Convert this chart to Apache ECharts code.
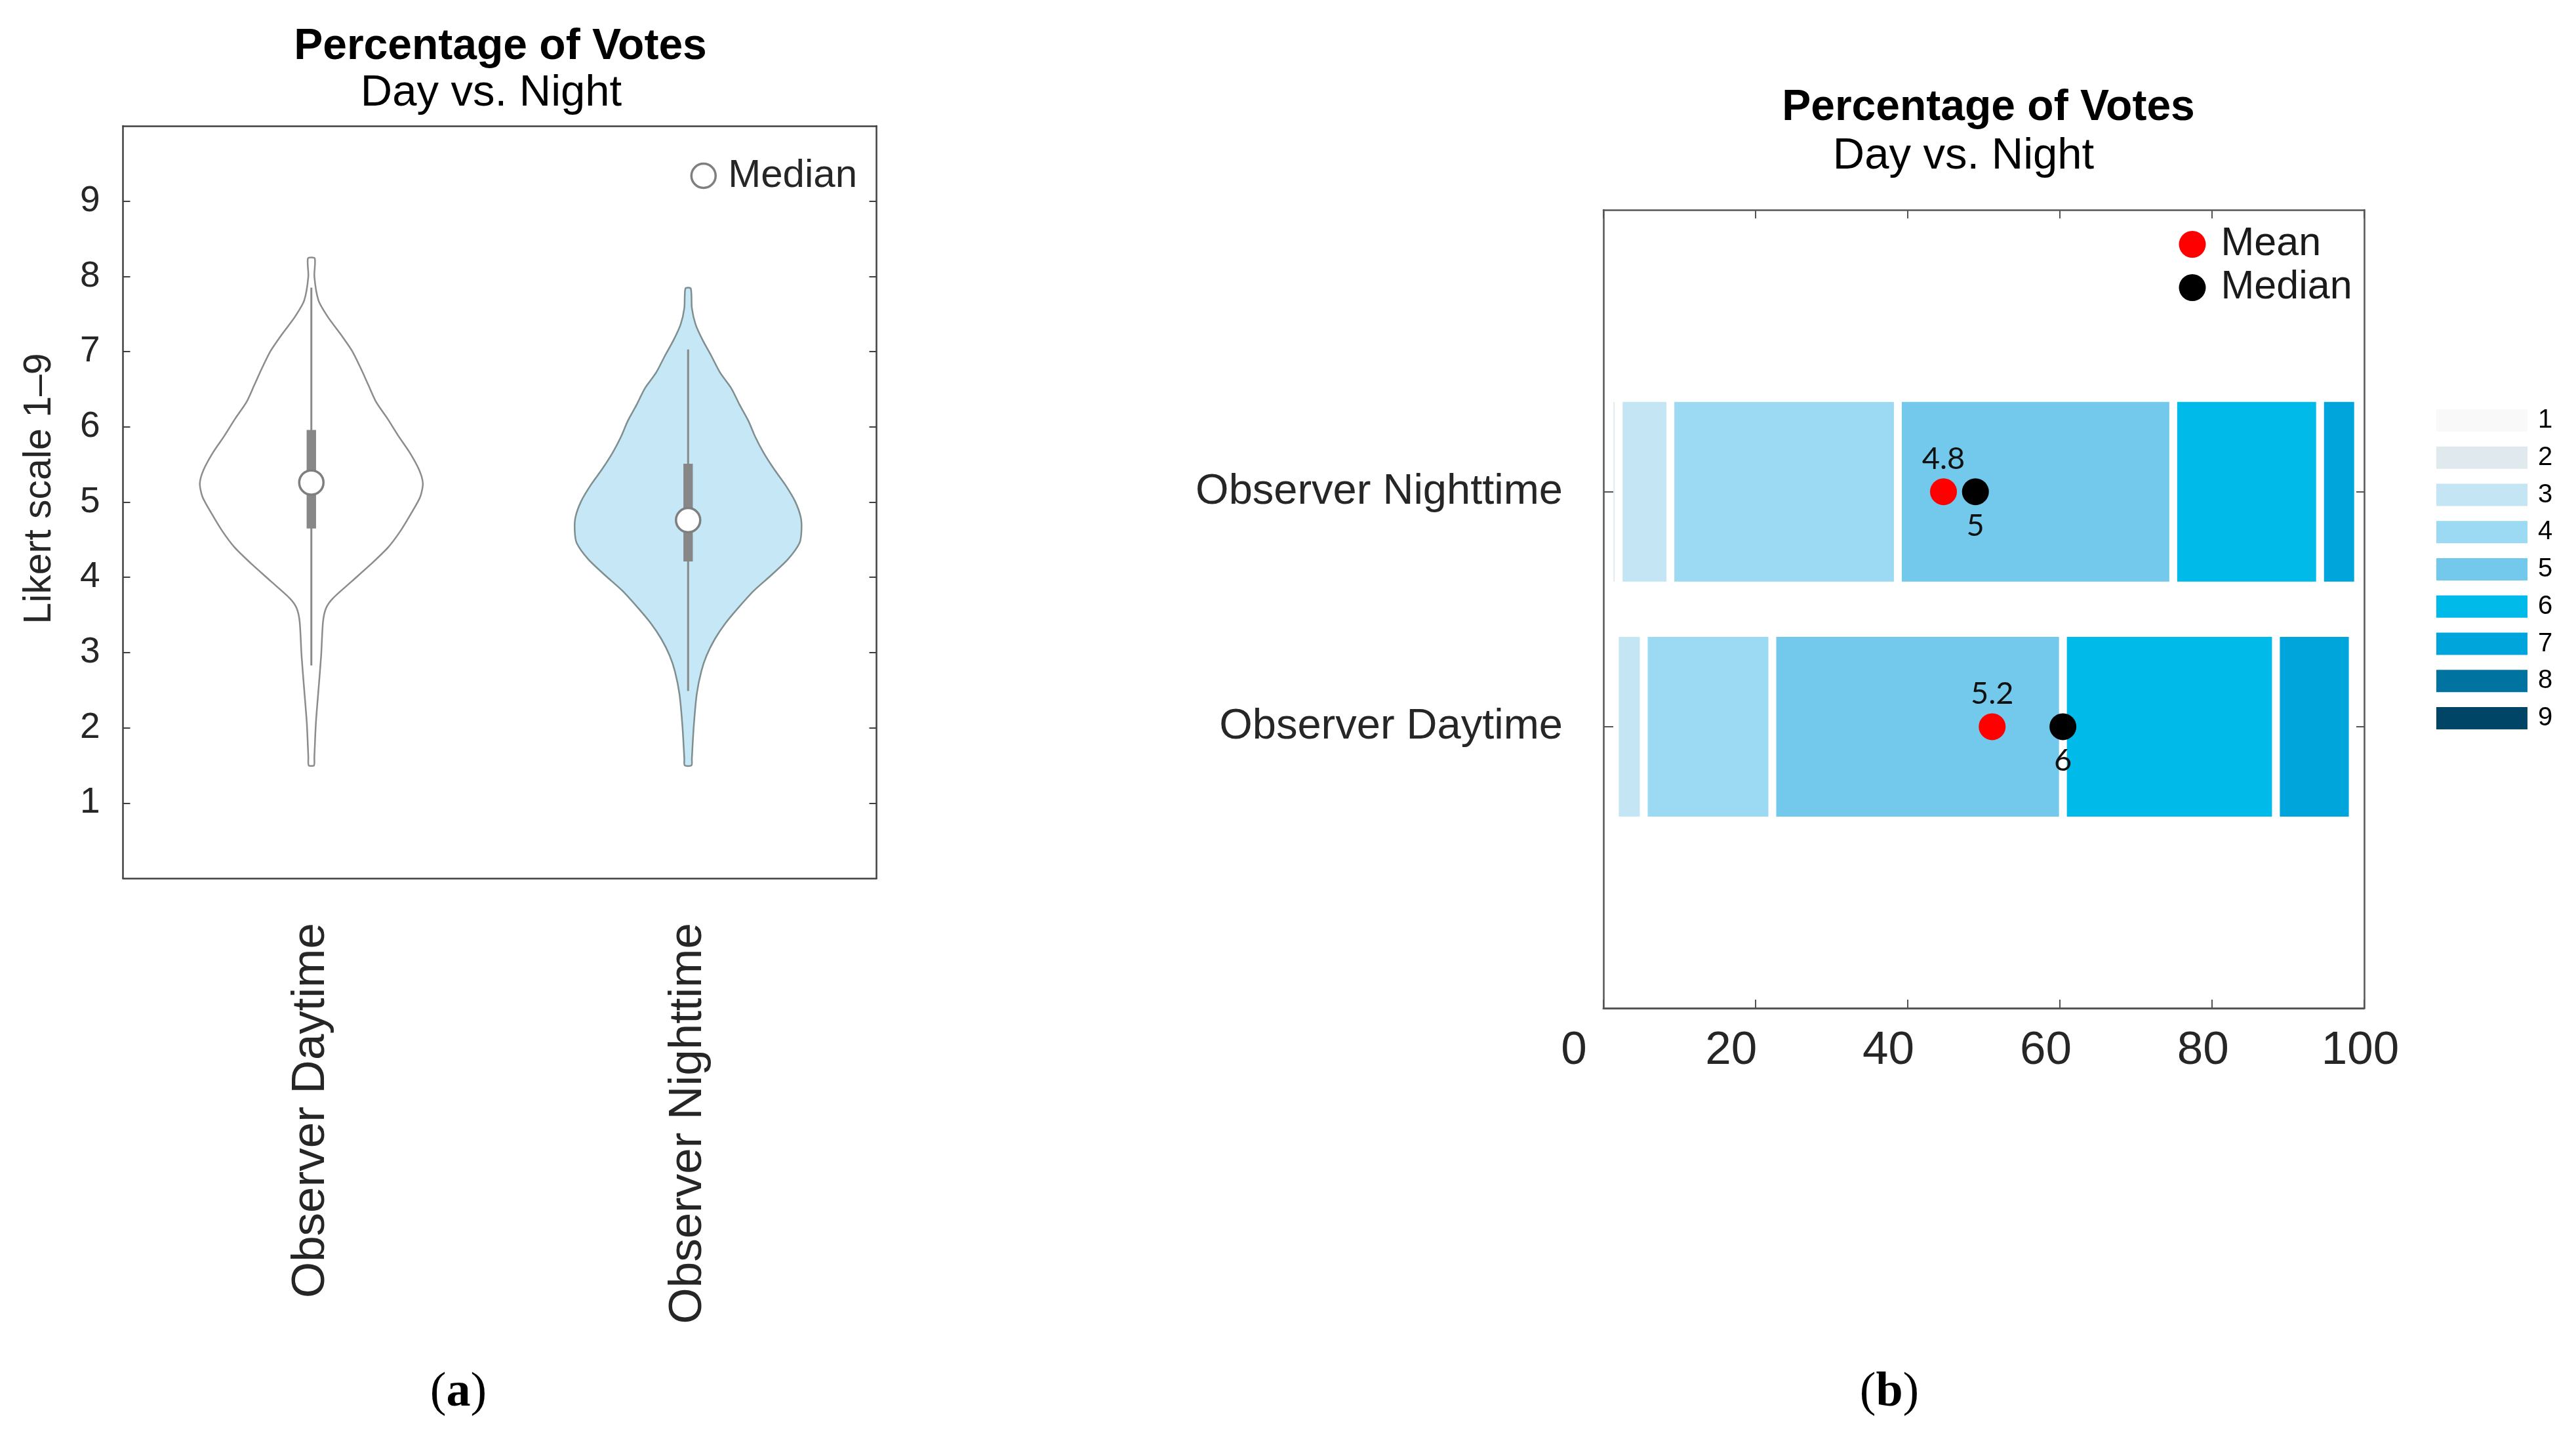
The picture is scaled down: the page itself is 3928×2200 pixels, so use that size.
<!DOCTYPE html>
<html><head><meta charset="utf-8">
<script src="https://cdn.jsdelivr.net/npm/echarts@6/dist/echarts.min.js"></script>
<style>html,body{margin:0;padding:0;background:#fff}#c{width:3928px;height:2200px}</style>
</head><body><div id="c"></div>
<script>
// ---------- Panel (a): violin ----------
const violinCategories = ['Observer Daytime', 'Observer Nighttime'];
const likertTicks = [1, 2, 3, 4, 5, 6, 7, 8, 9];
const dayLevels = [8.24, 8.0, 7.68, 7.46, 7.23, 7.01, 6.78, 6.56, 6.33, 6.11, 5.88, 5.66, 5.43, 5.25, 5.07, 4.85, 4.62, 4.40, 4.17, 3.95, 3.72, 3.59, 3.41, 2.96, 2.51, 2.06, 1.61, 1.5];
const dayHalfWidth = [0.009, 0.008, 0.019, 0.044, 0.078, 0.108, 0.131, 0.151, 0.172, 0.202, 0.231, 0.261, 0.286, 0.296, 0.289, 0.265, 0.237, 0.204, 0.157, 0.108, 0.057, 0.039, 0.031, 0.026, 0.019, 0.012, 0.008, 0.007];
const nightLevels = [7.84, 7.58, 7.36, 7.15, 6.94, 6.72, 6.51, 6.30, 6.08, 5.87, 5.66, 5.44, 5.23, 5.01, 4.80, 4.63, 4.46, 4.24, 4.03, 3.82, 3.60, 3.39, 3.18, 2.96, 2.75, 2.45, 2.02, 1.59, 1.5];
const nightHalfWidth = [0.007, 0.010, 0.020, 0.039, 0.062, 0.085, 0.115, 0.136, 0.160, 0.178, 0.200, 0.228, 0.258, 0.284, 0.299, 0.301, 0.296, 0.265, 0.221, 0.174, 0.134, 0.099, 0.071, 0.049, 0.035, 0.023, 0.015, 0.010, 0.009];
const boxQ1 = [4.65, 4.21];
const boxQ3 = [5.96, 5.51];
const whiskerLow = [2.83, 2.49];
const whiskerHigh = [7.85, 7.03];
const violinMedian = [5.26, 4.76];

// ---------- Panel (b): stacked percentage bars ----------
const barCategories = ['Observer Daytime', 'Observer Nighttime'];
const likertLevels = ['1', '2', '3', '4', '5', '6', '7', '8', '9'];
const likertColors = ['#f9f9f9', '#dfe9ee', '#c4e6f4', '#9cdaf3', '#72c9eb', '#00bbea', '#00a5dc', '#0073a0', '#004565'];
const votePctDay = [0.8, 0.7, 3.8, 16.9, 38.2, 28.0, 10.1, 0.8, 0];
const votePctNight = [0.8, 1.2, 6.8, 29.9, 36.2, 19.3, 5.0, 0, 0];
const meanPos = [51.1, 44.7];
const medianPos = [60.4, 48.9];
const meanLabels = ['5.2', '4.8'];
const medianLabels = ['6', '5'];
const pctTicks = [0, 20, 40, 60, 80, 100];

const FONT = '"Liberation Sans", Arial, sans-serif';
const violinLevels = [dayLevels, nightLevels];
const violinHalf = [dayHalfWidth, nightHalfWidth];
const violinFill = ['#ffffff', '#c6e8f6'];
const violinStroke = ['#8c8c8c', '#7f8e8f'];
const frameA = '#404040';
const frameB = '#555555';

function renderViolin(params, api) {
  const i = params.dataIndex;
  const lv = violinLevels[i], hw = violinHalf[i];
  const cx = api.coord([i, 0])[0];
  const band = api.size([1, 0])[0];
  const pts = [];
  for (let k = 0; k < lv.length; k++) pts.push([cx + hw[k] * band, api.coord([i, lv[k]])[1]]);
  for (let k = lv.length - 1; k >= 0; k--) pts.push([cx - hw[k] * band, api.coord([i, lv[k]])[1]]);
  const yLo = api.coord([i, whiskerLow[i]])[1];
  const yHi = api.coord([i, whiskerHigh[i]])[1];
  const yQ1 = api.coord([i, boxQ1[i]])[1];
  const yQ3 = api.coord([i, boxQ3[i]])[1];
  const bw = 0.025 * band;
  return {
    type: 'group',
    children: [
      { type: 'polygon', shape: { points: pts, smooth: 0.25 },
        style: { fill: violinFill[i], stroke: violinStroke[i], lineWidth: 2.5 } },
      { type: 'line', shape: { x1: cx, y1: yHi, x2: cx, y2: yLo },
        style: { stroke: '#8a8a8a', lineWidth: 3 } },
      { type: 'rect', shape: { x: cx - bw / 2, y: yQ3, width: bw, height: yQ1 - yQ3 },
        style: { fill: '#878787' } }
    ]
  };
}

const axisLabelColor = '#262626';

const series = [
  { type: 'custom', name: 'violin', xAxisIndex: 0, yAxisIndex: 0,
    data: violinCategories.map((c, i) => [i, violinMedian[i]]),
    encode: { x: 0, y: 1 }, renderItem: renderViolin, z: 2, silent: true },
  { type: 'scatter', name: 'Median', xAxisIndex: 0, yAxisIndex: 0,
    data: violinCategories.map((c, i) => [i, violinMedian[i]]),
    symbol: 'circle', symbolSize: 37,
    itemStyle: { color: '#ffffff', borderColor: '#7f7f7f', borderWidth: 3.5, opacity: 1 }, z: 5, silent: true }
];

likertLevels.forEach((lvl, i) => {
  series.push({
    type: 'bar', name: lvl, stack: 'votes', xAxisIndex: 4, yAxisIndex: 4,
    data: [votePctDay[i], votePctNight[i]],
    barWidth: 286,
    itemStyle: { color: likertColors[i], borderColor: '#ffffff', borderWidth: 6 },
    silent: true, z: 2
  });
});

series.push({
  type: 'scatter', name: 'Mean', xAxisIndex: 4, yAxisIndex: 4,
  data: meanPos.map((x, i) => [x, i]), symbolSize: 41,
  itemStyle: { color: '#ff0000', opacity: 1 }, z: 6, silent: true,
  label: { show: true, position: 'top', distance: 6, color: '#111',
    fontFamily: 'Lato, "Open Sans", sans-serif', fontSize: 47,
    formatter: p => meanLabels[p.dataIndex] }
});
series.push({
  type: 'scatter', name: 'Median', xAxisIndex: 4, yAxisIndex: 4,
  data: medianPos.map((x, i) => [x, i]), symbolSize: 41,
  itemStyle: { color: '#000000', opacity: 1 }, z: 6, silent: true,
  label: { show: true, position: 'bottom', distance: 8, color: '#111',
    fontFamily: 'Lato, "Open Sans", sans-serif', fontSize: 47,
    formatter: p => medianLabels[p.dataIndex] }
});

const option = {
  backgroundColor: '#ffffff',
  animation: false,
  textStyle: { fontFamily: FONT },
  grid: [
    { left: 187.5, top: 192, width: 1149, height: 1147 },
    { left: 2445, top: 320, width: 1160, height: 1217 },
    { left: 2445, top: 570.5, width: 1160, height: 716.5 },
    { left: 2400, top: 320, width: 1199, height: 1217 }
  ],
  xAxis: [
    { type: 'category', gridIndex: 0, data: violinCategories, position: 'bottom', z: 5,
      axisLine: { onZero: false, lineStyle: { color: frameA, width: 2.5 } },
      axisTick: { inside: true, length: 11, alignWithLabel: true, lineStyle: { color: frameA, width: 2 } },
      axisLabel: { rotate: 90, margin: 68, fontSize: 71, color: axisLabelColor, fontFamily: FONT, interval: 0 },
      splitLine: { show: false } },
    { type: 'category', gridIndex: 0, data: violinCategories, position: 'top', z: 5,
      axisLine: { onZero: false, lineStyle: { color: frameA, width: 2.5 } },
      axisTick: { inside: true, length: 11, alignWithLabel: true, lineStyle: { color: frameA, width: 2 } },
      axisLabel: { show: false }, splitLine: { show: false } },
    { type: 'value', gridIndex: 1, min: 0, max: 100, interval: 20, position: 'bottom', z: 5,
      axisLine: { onZero: false, lineStyle: { color: frameB, width: 3 } },
      axisTick: { inside: true, length: 13, lineStyle: { color: frameB, width: 2 } },
      axisLabel: { show: false },
      splitLine: { show: false } },
    { type: 'value', gridIndex: 1, min: 0, max: 100, interval: 20, position: 'top', z: 5,
      axisLine: { onZero: false, lineStyle: { color: frameB, width: 2.5 } },
      axisTick: { inside: true, length: 13, lineStyle: { color: frameB, width: 2 } },
      axisLabel: { show: false }, splitLine: { show: false } },
    { type: 'value', gridIndex: 2, min: 0, max: 100, show: false },
    { type: 'value', gridIndex: 3, min: 0, max: 100, interval: 20, position: 'bottom',
      axisLine: { show: false, onZero: false }, axisTick: { show: false },
      axisLabel: { margin: 30, fontSize: 71, color: axisLabelColor, fontFamily: FONT, customValues: pctTicks },
      splitLine: { show: false } }
  ],
  yAxis: [
    { type: 'value', gridIndex: 0, min: 0, max: 10, interval: 1, position: 'left', z: 5,
      axisLine: { show: true, onZero: false, lineStyle: { color: frameA, width: 2.5 } },
      axisTick: { show: true, inside: true, length: 11, customValues: likertTicks, lineStyle: { color: frameA, width: 2 } },
      axisLabel: { margin: 35, fontSize: 55, color: axisLabelColor, fontFamily: FONT, customValues: likertTicks },
      splitLine: { show: false } },
    { type: 'value', gridIndex: 0, min: 0, max: 10, interval: 1, position: 'right', z: 5,
      axisLine: { show: true, onZero: false, lineStyle: { color: frameA, width: 2.5 } },
      axisTick: { show: true, inside: true, length: 11, customValues: likertTicks, lineStyle: { color: frameA, width: 2 } },
      axisLabel: { show: false }, splitLine: { show: false } },
    { type: 'value', gridIndex: 1, min: 0, max: 1, position: 'left', z: 5,
      axisLine: { show: true, onZero: false, lineStyle: { color: frameB, width: 2.5 } },
      axisTick: { show: false }, axisLabel: { show: false }, splitLine: { show: false } },
    { type: 'value', gridIndex: 1, min: 0, max: 1, position: 'right', z: 5,
      axisLine: { show: true, onZero: false, lineStyle: { color: frameB, width: 2.5 } },
      axisTick: { show: false }, axisLabel: { show: false }, splitLine: { show: false } },
    { type: 'category', gridIndex: 2, data: barCategories, position: 'left', z: 5,
      axisLine: { show: false, onZero: false },
      axisTick: { show: true, inside: true, length: 15, alignWithLabel: true, lineStyle: { color: frameB, width: 2 } },
      axisLabel: { margin: 62, fontSize: 65, color: axisLabelColor, fontFamily: FONT },
      splitLine: { show: false } },
    { type: 'category', gridIndex: 2, data: barCategories, position: 'right', z: 5,
      axisLine: { show: false, onZero: false },
      axisTick: { show: true, inside: true, length: 12, alignWithLabel: true, lineStyle: { color: frameB, width: 2 } },
      axisLabel: { show: false }, splitLine: { show: false } },
    { type: 'value', gridIndex: 3, min: 0, max: 1, show: false }
  ],
  legend: [
    { data: [{ name: 'Median', icon: 'circle', itemStyle: { color: '#ffffff', borderColor: '#7f7f7f', borderWidth: 3.5 } }],
      left: 1052.5, top: 238, padding: 0, itemWidth: 37, itemHeight: 37, selectedMode: false,
      textStyle: { fontSize: 60, color: axisLabelColor, fontFamily: FONT, padding: [0, 0, 0, 14] } },
    { data: [{ name: 'Mean', icon: 'circle', itemStyle: { color: '#ff0000', borderWidth: 0 } },
             { name: 'Median', icon: 'circle', itemStyle: { color: '#000000', borderWidth: 0 } }],
      orient: 'vertical', left: 3322.5, top: 342, padding: 0, itemWidth: 41, itemHeight: 41, itemGap: 5,
      selectedMode: false,
      textStyle: { fontSize: 61, color: '#1a1a1a', fontFamily: FONT, padding: [0, 0, 0, 18] } },
    { data: likertLevels.map(n => ({ name: n, icon: 'rect' })),
      orient: 'vertical', left: 3715, top: 621, padding: 0, itemWidth: 139, itemHeight: 34, itemGap: 16.75,
      selectedMode: false, itemStyle: { borderWidth: 0 },
      textStyle: { fontSize: 40, color: '#000', fontFamily: FONT, padding: [0, 0, 0, 11] } }
  ],
  graphic: [
    { type: 'text', x: 763, y: 72, style: { text: 'Percentage of Votes', font: 'bold 66px "Liberation Sans", Arial', fill: '#000', align: 'center', verticalAlign: 'middle' } },
    { type: 'text', x: 749, y: 143, style: { text: 'Day vs. Night', font: '67px "Liberation Sans", Arial', fill: '#000', align: 'center', verticalAlign: 'middle' } },
    { type: 'text', x: 3032, y: 165, style: { text: 'Percentage of Votes', font: 'bold 66px "Liberation Sans", Arial', fill: '#000', align: 'center', verticalAlign: 'middle' } },
    { type: 'text', x: 2994, y: 239, style: { text: 'Day vs. Night', font: '67px "Liberation Sans", Arial', fill: '#000', align: 'center', verticalAlign: 'middle' } },
    { type: 'text', x: 61, y: 745, rotation: Math.PI / 2, style: { text: 'Likert scale 1\u20139', font: '59px "Liberation Sans", Arial', fill: axisLabelColor, align: 'center', verticalAlign: 'middle' } },
    { type: 'text', x: 699, y: 2124, style: { text: '{p|(}{b|a}{p|)}', align: 'center', verticalAlign: 'middle', fill: '#000',
      rich: { p: { font: '74px "Liberation Serif", "Times New Roman", serif' }, b: { font: 'bold 74px "Liberation Serif", "Times New Roman", serif' } } } },
    { type: 'text', x: 2881, y: 2124, style: { text: '{p|(}{b|b}{p|)}', align: 'center', verticalAlign: 'middle', fill: '#000',
      rich: { p: { font: '74px "Liberation Serif", "Times New Roman", serif' }, b: { font: 'bold 74px "Liberation Serif", "Times New Roman", serif' } } } }
  ],
  series: series
};

const chart = echarts.init(document.getElementById('c'), null, { renderer: 'canvas' });
chart.setOption(option);
</script>
</body></html>
